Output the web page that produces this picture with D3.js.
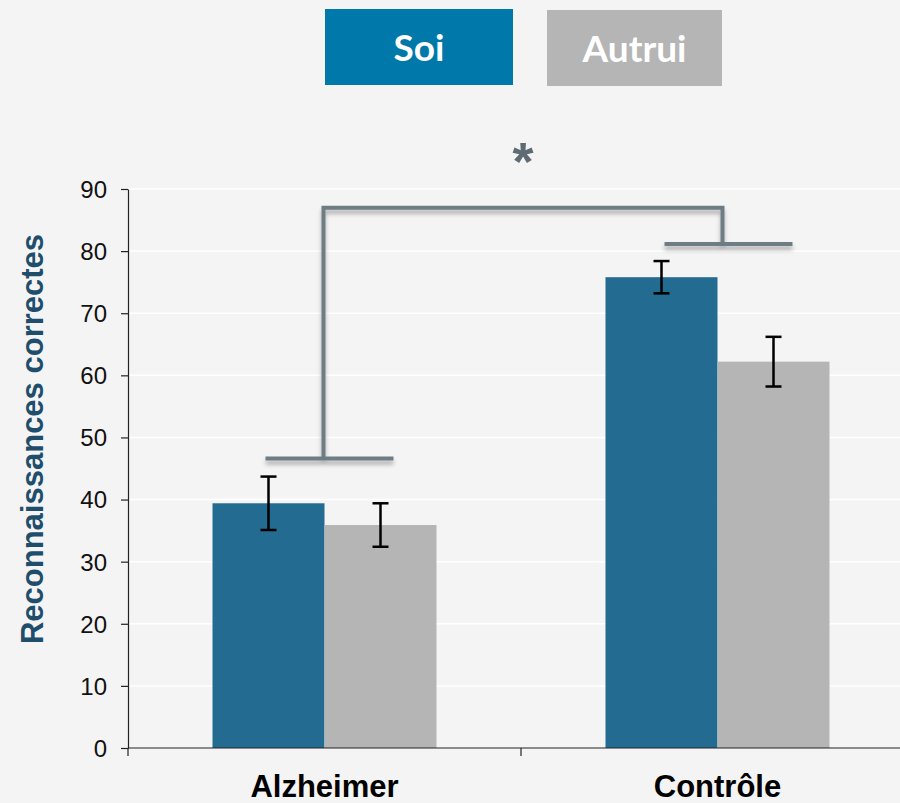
<!DOCTYPE html>
<html><head><meta charset="utf-8">
<script src="https://cdn.jsdelivr.net/npm/d3@7"></script>
<style>
html,body{margin:0;padding:0;background:#f4f4f4;}
svg{display:block;}
</style></head>
<body>
<svg id="chart" width="900" height="803"></svg>
<script>
const categories = ["Alzheimer", "Contrôle"];
const seriesNames = ["Soi", "Autrui"];
const soiValues = [39.4, 75.8];
const autruiValues = [35.9, 62.2];
const soiErrors = [4.3, 2.6];
const autruiErrors = [3.5, 4.0];
const yTicks = [0, 10, 20, 30, 40, 50, 60, 70, 80, 90];
const yLabel = "Reconnaissances correctes";
const sigMark = "*";

const colors = {Soi: "#236b90", Autrui: "#b5b5b5"};
const legendColors = {Soi: "#0079aa", Autrui: "#b5b5b5"};

const svg = d3.select("#chart");
const W = 900, H = 803;
svg.append("rect").attr("width", W).attr("height", H).attr("fill", "#f4f4f4");

const x0 = 128, xEnd = 914, yBottom = 748, yTop = 189;
const x = d3.scaleBand().domain(categories).range([x0, xEnd]).paddingInner(0).paddingOuter(0);
const y = d3.scaleLinear().domain([0, 90]).range([yBottom, yTop]);
const barW = 112;
const xs = d3.scaleBand().domain(seriesNames).range([0, barW * 2]);

// gridlines
svg.append("g").selectAll("line").data(yTicks.filter(d => d > 0)).join("line")
  .attr("x1", x0).attr("x2", W).attr("y1", d => y(d)).attr("y2", d => y(d))
  .attr("stroke", "#ffffff").attr("stroke-width", 1.5);

// bars
const data = [];
categories.forEach((c, i) => {
  data.push({cat: c, s: "Soi", v: soiValues[i], e: soiErrors[i]});
  data.push({cat: c, s: "Autrui", v: autruiValues[i], e: autruiErrors[i]});
});
const groupOffset = (x.bandwidth() - barW * 2) / 2;
svg.append("g").selectAll("rect").data(data).join("rect")
  .attr("x", d => x(d.cat) + groupOffset + xs(d.s))
  .attr("y", d => y(d.v))
  .attr("width", xs.bandwidth())
  .attr("height", d => yBottom - y(d.v))
  .attr("fill", d => colors[d.s]);

// error bars
const eg = svg.append("g").attr("stroke", "#000").attr("stroke-width", 2.5);
data.forEach(d => {
  const cx = x(d.cat) + groupOffset + xs(d.s) + xs.bandwidth() / 2;
  eg.append("line").attr("x1", cx).attr("x2", cx).attr("y1", y(d.v + d.e)).attr("y2", y(d.v - d.e));
  eg.append("line").attr("x1", cx - 8).attr("x2", cx + 8).attr("y1", y(d.v + d.e)).attr("y2", y(d.v + d.e));
  eg.append("line").attr("x1", cx - 8).attr("x2", cx + 8).attr("y1", y(d.v - d.e)).attr("y2", y(d.v - d.e));
});

// y axis
const yAxis = d3.axisLeft(y).tickValues(yTicks).tickSize(7).tickSizeOuter(0);
const ya = svg.append("g").attr("transform", `translate(${x0},0)`).call(yAxis);
ya.attr("font-size", null).attr("font-family", null);
ya.select(".domain").attr("stroke", "#222").attr("stroke-width", 1.2);
ya.selectAll(".tick line").attr("stroke", "#222").attr("stroke-width", 1.2);
ya.selectAll(".tick text").attr("font-family", "Liberation Sans, Arial, sans-serif")
  .style("font-size", "24px").attr("fill", "#111").attr("x", -21).attr("dy", "0.35em");

// x axis
const xa = svg.append("g").attr("transform", `translate(0,${yBottom})`);
xa.append("line").attr("x1", x0).attr("x2", W).attr("y1", 0).attr("y2", 0).attr("stroke", "#222").attr("stroke-width", 1.2);
const boundaries = [x0, ...categories.map(c => x(c) + x.bandwidth())];
xa.selectAll("line.t").data(boundaries).join("line").attr("class", "t")
  .attr("x1", d => d).attr("x2", d => d).attr("y1", 0).attr("y2", 8)
  .attr("stroke", "#222").attr("stroke-width", 1.2);
xa.selectAll("text").data(categories).join("text")
  .attr("x", d => x(d) + x.bandwidth() / 2).attr("y", 49)
  .attr("text-anchor", "middle")
  .attr("font-family", "Liberation Sans, Arial, sans-serif").attr("font-weight", "bold")
  .style("font-size", "31px").attr("fill", "#000").text(d => d);

// y label
svg.append("text").attr("transform", `translate(43,439) rotate(-90)`)
  .attr("text-anchor", "middle")
  .attr("font-family", "Liberation Sans, Arial, sans-serif").attr("font-weight", "bold")
  .style("font-size", "31px").attr("fill", "#1f4e6c").text(yLabel);

// significance bracket
const defs = svg.append("defs");
const f = defs.append("filter").attr("id", "sh").attr("x", "-20%").attr("y", "-50%").attr("width", "140%").attr("height", "200%");
f.append("feDropShadow").attr("dx", 0).attr("dy", 4).attr("stdDeviation", 2).attr("flood-color", "#000").attr("flood-opacity", 0.3);

const cA = x(categories[0]) + x.bandwidth() / 2;
const cC = x(categories[1]) + x.bandwidth() / 2;
const topA = y(soiValues[0] + soiErrors[0]) - 18;
const topC = y(soiValues[1] + soiErrors[1]) - 17;
const yBr = y(87);
const bg = svg.append("g").attr("stroke", "#6e7b83").attr("stroke-width", 4).attr("fill", "none").attr("filter", "url(#sh)");
const aMid = cA - 1;
const cMid = cC + 5;
bg.append("line").attr("x1", aMid - 58).attr("x2", aMid + 70).attr("y1", topA).attr("y2", topA);
bg.append("line").attr("x1", cMid - 58).attr("x2", cMid + 70).attr("y1", topC).attr("y2", topC);
bg.append("path").attr("d", `M${aMid},${topA} V${yBr} H${cMid} V${topC}`);

svg.append("text").attr("x", (cA + cC) / 2 + 2).attr("y", 180).attr("text-anchor", "middle")
  .attr("font-family", "Liberation Sans, Arial, sans-serif").attr("font-weight", "bold")
  .style("font-size", "54px").attr("fill", "#5f6b73").text(sigMark);

// legend
const legend = [
  {name: "Soi", x: 325, y: 9, w: 188, h: 76},
  {name: "Autrui", x: 547, y: 10, w: 175, h: 76}
];
const lg = svg.append("g");
legend.forEach(l => {
  lg.append("rect").attr("x", l.x).attr("y", l.y).attr("width", l.w).attr("height", l.h).attr("fill", legendColors[l.name]);
  lg.append("text").attr("x", l.x + l.w / 2).attr("y", l.y + l.h / 2 + 14).attr("text-anchor", "middle")
    .attr("font-family", "Lato, 'Open Sans', sans-serif").attr("font-weight", "bold")
    .style("font-size", "37px").attr("fill", "#ffffff").text(l.name);
});
</script>
</body></html>
